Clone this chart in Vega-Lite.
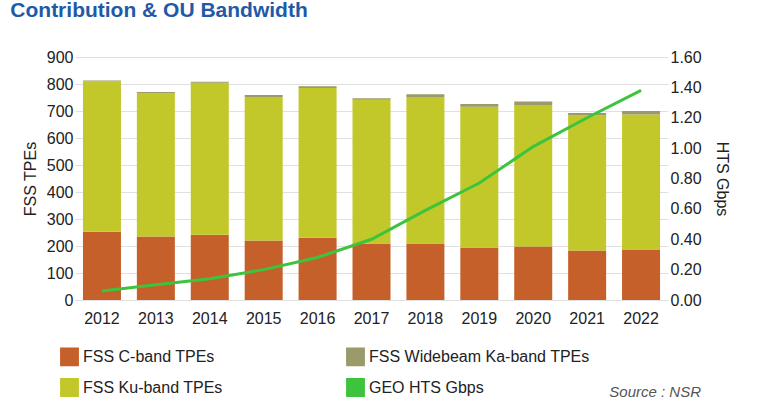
{
  "$schema": "https://vega.github.io/schema/vega-lite/v6.json",
  "autosize": {"type": "none"},
  "padding": {"left": 75, "top": 57, "right": 100, "bottom": 103},
  "width": 593,
  "height": 243,
  "background": "white",
  "config": {
    "font": "Liberation Sans",
    "view": {"stroke": null},
    "axis": {"labelFontSize": 16, "titleFontSize": 16, "labelColor": "#222", "titleColor": "#222", "titleFontWeight": "normal", "domain": false, "ticks": false}
  },
  "title": {"text": "Contribution & OU Bandwidth", "anchor": "start", "color": "#1F5AA8", "fontSize": 21, "fontWeight": "bold", "dx": -12, "offset": 28},
  "datasets": {
    "bars": [
      {"year": "2012", "series": "FSS C-band TPEs", "v": 253},
      {"year": "2013", "series": "FSS C-band TPEs", "v": 235},
      {"year": "2014", "series": "FSS C-band TPEs", "v": 242},
      {"year": "2015", "series": "FSS C-band TPEs", "v": 220},
      {"year": "2016", "series": "FSS C-band TPEs", "v": 231},
      {"year": "2017", "series": "FSS C-band TPEs", "v": 209},
      {"year": "2018", "series": "FSS C-band TPEs", "v": 209},
      {"year": "2019", "series": "FSS C-band TPEs", "v": 194},
      {"year": "2020", "series": "FSS C-band TPEs", "v": 198},
      {"year": "2021", "series": "FSS C-band TPEs", "v": 183},
      {"year": "2022", "series": "FSS C-band TPEs", "v": 187},
      {"year": "2012", "series": "FSS Ku-band TPEs", "v": 557},
      {"year": "2013", "series": "FSS Ku-band TPEs", "v": 530},
      {"year": "2014", "series": "FSS Ku-band TPEs", "v": 563},
      {"year": "2015", "series": "FSS Ku-band TPEs", "v": 532},
      {"year": "2016", "series": "FSS Ku-band TPEs", "v": 554},
      {"year": "2017", "series": "FSS Ku-band TPEs", "v": 533},
      {"year": "2018", "series": "FSS Ku-band TPEs", "v": 543},
      {"year": "2019", "series": "FSS Ku-band TPEs", "v": 522},
      {"year": "2020", "series": "FSS Ku-band TPEs", "v": 524},
      {"year": "2021", "series": "FSS Ku-band TPEs", "v": 500},
      {"year": "2022", "series": "FSS Ku-band TPEs", "v": 500},
      {"year": "2012", "series": "FSS Widebeam Ka-band TPEs", "v": 3},
      {"year": "2013", "series": "FSS Widebeam Ka-band TPEs", "v": 5},
      {"year": "2014", "series": "FSS Widebeam Ka-band TPEs", "v": 3},
      {"year": "2015", "series": "FSS Widebeam Ka-band TPEs", "v": 7},
      {"year": "2016", "series": "FSS Widebeam Ka-band TPEs", "v": 7},
      {"year": "2017", "series": "FSS Widebeam Ka-band TPEs", "v": 5},
      {"year": "2018", "series": "FSS Widebeam Ka-band TPEs", "v": 10},
      {"year": "2019", "series": "FSS Widebeam Ka-band TPEs", "v": 10},
      {"year": "2020", "series": "FSS Widebeam Ka-band TPEs", "v": 13},
      {"year": "2021", "series": "FSS Widebeam Ka-band TPEs", "v": 10},
      {"year": "2022", "series": "FSS Widebeam Ka-band TPEs", "v": 13}
    ],
    "line": [
      {"year": "2012", "series": "GEO HTS Gbps", "g": 0.06},
      {"year": "2013", "series": "GEO HTS Gbps", "g": 0.10},
      {"year": "2014", "series": "GEO HTS Gbps", "g": 0.14},
      {"year": "2015", "series": "GEO HTS Gbps", "g": 0.20},
      {"year": "2016", "series": "GEO HTS Gbps", "g": 0.28},
      {"year": "2017", "series": "GEO HTS Gbps", "g": 0.40},
      {"year": "2018", "series": "GEO HTS Gbps", "g": 0.59},
      {"year": "2019", "series": "GEO HTS Gbps", "g": 0.77},
      {"year": "2020", "series": "GEO HTS Gbps", "g": 1.01},
      {"year": "2021", "series": "GEO HTS Gbps", "g": 1.20},
      {"year": "2022", "series": "GEO HTS Gbps", "g": 1.38}
    ],
    "note": [{"year": "2022", "v": -340, "t": "Source : NSR"}]
  },
  "resolve": {"scale": {"y": "independent"}},
  "layer": [
    {
      "layer": [
        {
          "data": {"name": "bars"},
          "mark": {"type": "bar", "width": 38},
          "encoding": {
            "x": {"field": "year", "type": "ordinal", "title": null, "axis": {"labelAngle": 0, "labelPadding": 10}},
            "y": {"field": "v", "type": "quantitative", "stack": "zero", "title": "FSS TPEs", "scale": {"domain": [0, 900]}, "axis": {"tickCount": 9, "gridColor": "#e0e0e0", "titlePadding": 8}},
            "order": {"field": "series"},
            "color": {
              "field": "series", "type": "nominal",
              "scale": {"domain": ["FSS C-band TPEs", "FSS Ku-band TPEs", "FSS Widebeam Ka-band TPEs", "GEO HTS Gbps"], "range": ["#C5602A", "#C3C82A", "#9A9A6A", "#3CC43C"]},
              "legend": {"orient": "none", "legendX": -15, "legendY": 290, "columns": 2, "title": null, "labelFontSize": 16, "labelColor": "#222", "symbolType": "square", "symbolSize": 300, "columnPadding": 120, "rowPadding": 6, "labelLimit": 300}
            }
          }
        },
        {
          "data": {"name": "note"},
          "mark": {"type": "text", "align": "right", "fontStyle": "italic", "fontSize": 15, "color": "#555", "dx": 60},
          "encoding": {
            "x": {"field": "year", "type": "ordinal"},
            "y": {"field": "v", "type": "quantitative"},
            "text": {"field": "t"}
          }
        }
      ]
    },
    {
      "data": {"name": "line"},
      "mark": {"type": "line", "strokeWidth": 3},
      "encoding": {
        "x": {"field": "year", "type": "ordinal"},
        "y": {"field": "g", "type": "quantitative", "title": "HTS Gbps", "scale": {"domain": [0, 1.6]}, "axis": {"orient": "right", "tickCount": 8, "format": ".2f", "grid": false, "titleAngle": 90, "titlePadding": 12}},
        "color": {"field": "series", "type": "nominal"}
      }
    }
  ]
}
